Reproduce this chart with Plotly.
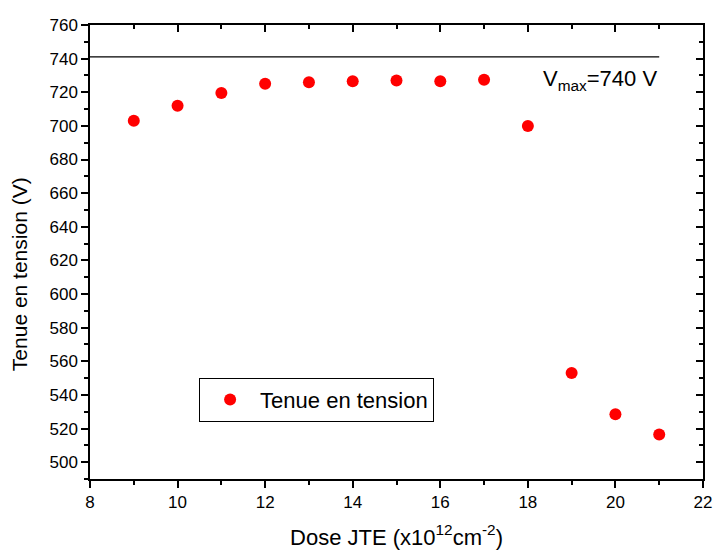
import plotly.graph_objects as go

dose = [9, 10, 11, 12, 13, 14, 15, 16, 17, 18, 19, 20, 21]
tenue = [703, 712, 719.5, 725, 726, 726.5, 727, 726.5, 727.5, 700, 553, 528.5, 516.5]
vmax_x = [8, 21]
vmax_y = [741, 741]

FONT = "Liberation Sans, Arial, sans-serif"

fig = go.Figure()
fig.add_trace(go.Scatter(x=vmax_x, y=vmax_y, mode="lines",
                         line=dict(color="black", width=1.3), showlegend=False,
                         hoverinfo="skip"))
fig.add_trace(go.Scatter(x=dose, y=tenue, mode="markers", name="Tenue en tension",
                         marker=dict(color="#ff0000", size=12)))
fig.add_trace(go.Scatter(x=[None], y=[None], xaxis="x2", yaxis="y2", showlegend=False))

line_common = dict(showgrid=False, zeroline=False, showline=True, linecolor="black",
                   linewidth=1.5, tickcolor="black", tickwidth=1.5, automargin=False)
tickfont = dict(family=FONT, size=17, color="black")

fig.update_layout(
    width=716, height=551,
    margin=dict(l=90, r=13, t=25, b=72, autoexpand=False),
    plot_bgcolor="white", paper_bgcolor="white",
    font=dict(family=FONT, color="black"),
    xaxis=dict(range=[8, 22], dtick=2, ticks="outside", ticklen=7, mirror=True,
               tickfont=tickfont,
               minor=dict(dtick=1, ticks="outside", ticklen=4, tickcolor="black", tickwidth=1.5),
               title=dict(text="Dose JTE (x10<sup>12</sup>cm<sup>-2</sup>)",
                          font=dict(family=FONT, size=22), standoff=18),
               **line_common),
    yaxis=dict(range=[490, 760], dtick=20, tick0=500, ticks="outside", ticklen=7, mirror=True,
               tickfont=tickfont,
               minor=dict(dtick=10, ticks="outside", ticklen=4, tickcolor="black", tickwidth=1.5),
               **line_common),
    xaxis2=dict(range=[8, 22], dtick=2, ticks="inside", ticklen=7, overlaying="x", side="top",
                anchor="y", showticklabels=False,
                minor=dict(dtick=1, ticks="inside", ticklen=4, tickcolor="black", tickwidth=1.5),
                **line_common),
    yaxis2=dict(range=[490, 760], dtick=20, tick0=500, ticks="inside", ticklen=7, overlaying="y",
                side="right", anchor="x", showticklabels=False,
                minor=dict(dtick=10, ticks="inside", ticklen=4, tickcolor="black", tickwidth=1.5),
                **line_common),
    legend=dict(x=0.178, y=0.223, xanchor="left", yanchor="top",
                bordercolor="black", borderwidth=1, bgcolor="white",
                font=dict(family=FONT, size=22, color="black"),
                itemwidth=50, tracegroupgap=0),
    annotations=[
        dict(x=21.0, y=727, xref="x", yref="y", xanchor="right", yanchor="middle",
             text="V<sub>max</sub>=740 V", showarrow=False,
             font=dict(family=FONT, size=22, color="black")),
        dict(x=-0.116, y=0.451, xref="paper", yref="paper", xanchor="center", yanchor="middle",
             text="Tenue en tension (V)", textangle=-90, showarrow=False,
             font=dict(family=FONT, size=21, color="black")),
    ],
)

fig.write_html("out.html", config={"displayModeBar": False},
               post_script="document.body.style.margin='0';")
